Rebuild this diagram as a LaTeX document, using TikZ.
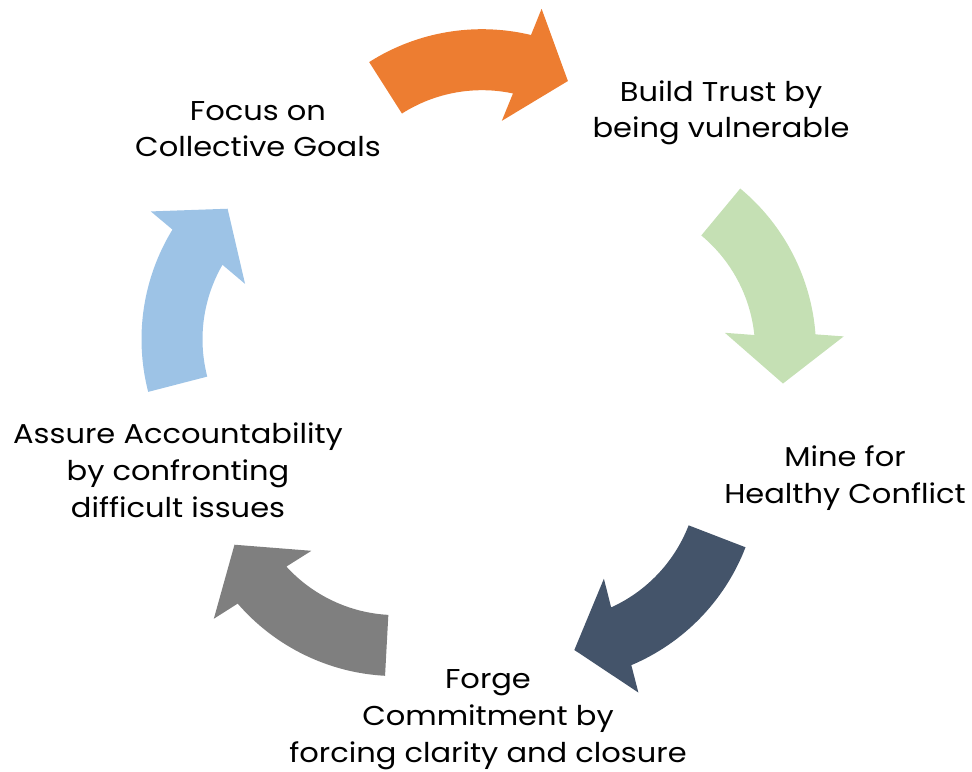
\documentclass[tikz,border=0pt]{standalone}
\usepackage{fontspec}
\setmainfont{Poppins}[FakeStretch=1.12]
\definecolor{arrorange}{HTML}{ED7D31}
\definecolor{arrgreen}{HTML}{C5E0B4}
\definecolor{arrnavy}{HTML}{44546A}
\definecolor{arrgray}{HTML}{7F7F7F}
\definecolor{arrblue}{HTML}{9DC3E6}

\begin{document}
\begin{tikzpicture}[x=0.02cm, y=0.02cm,
    label/.style={align=center, anchor=base, font=\fontsize{15.5}{20.8}\selectfont}]
    \useasboundingbox (0,0) rectangle (972,771);

    \node[label] (trust) at (721,633) {Build Trust by\\being vulnerable};
    \node[label] (conflict) at (845,268) {Mine for\\Healthy Conflict};
    \node[label] (commit) at (488,9) {Forge\\Commitment by\\forcing clarity and closure};
    \node[label] (account) at (178,254) {Assure Accountability\\by confronting\\difficult issues};
    \node[label] (goals) at (258,614) {Focus on\\Collective Goals};

    % centres of the curved arrows
    \coordinate (c1) at (482,531.8);
    \coordinate (c2) at (606.1,420.9);
    \coordinate (c3) at (549.6,299.3);
    \coordinate (c4) at (396.4,304.9);
    \coordinate (c5) at (351.5,431.7);

    \foreach \c/\t/\col in {c1/122.5/arrorange, c2/50.3/arrgreen, c3/-21.1/arrnavy, c4/-93.1/arrgray, c5/-165.5/arrblue}
    {
        \fill[\col, shift={(\c)}] (\t:210) arc[start angle=\t, delta angle=-46, radius=210]
            -- (\t-47:238) -- (\t-61:180) -- (\t-42:120) -- (\t-44.5:149)
            arc[start angle=\t-44.5, end angle=\t, radius=149] -- cycle;
    }
\end{tikzpicture}
\end{document}
